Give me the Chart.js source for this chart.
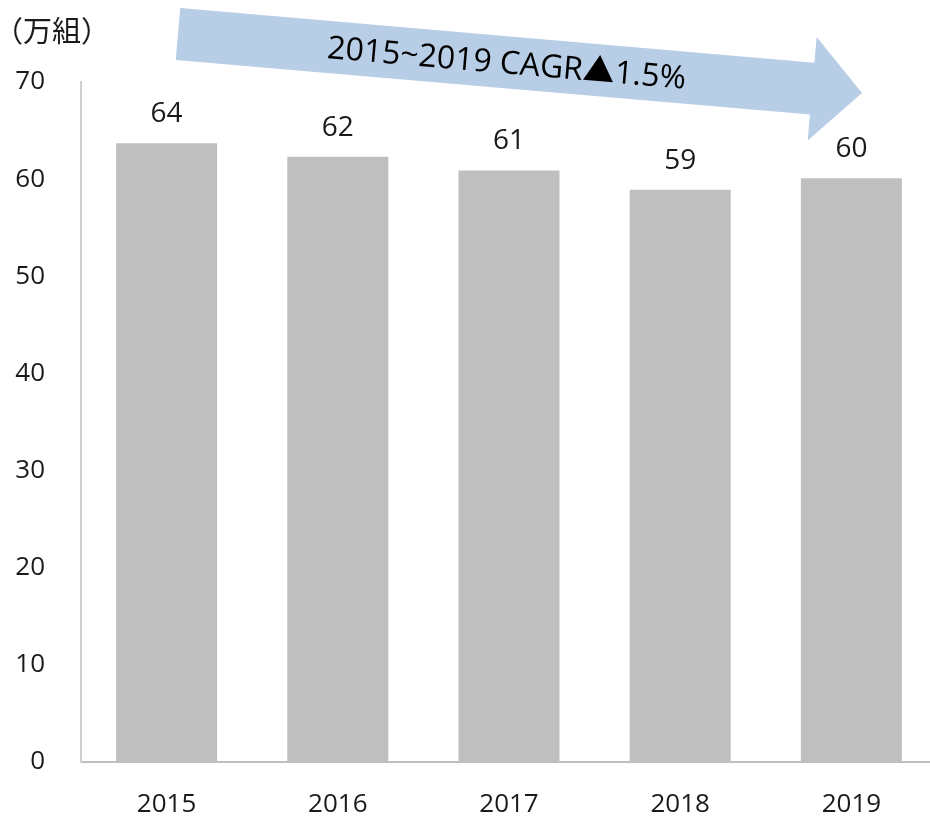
<!DOCTYPE html>
<html>
<head>
<meta charset="utf-8">
<script src="https://cdn.jsdelivr.net/npm/chart.js@4"></script>
<style>
  html, body { margin: 0; padding: 0; background: #fff; overflow: hidden; }
  #wrap { width: 937px; height: 817px; position: relative; }
</style>
</head>
<body>
<div id="wrap"><canvas id="chart"></canvas></div>
<script>
// data (labels show rounded values)
const years = ['2015', '2016', '2017', '2018', '2019'];
const households = [63.7, 62.3, 60.9, 58.9, 60.1];
const yTicks = [0, 10, 20, 30, 40, 50, 60, 70];
const unitLabel = '（万組）';
const arrowText = '2015~2019 CAGR▲1.5%';

const FONT = '"Open Sans", "Noto Sans CJK JP", sans-serif';

// value labels above each bar
const barLabels = {
    id: 'barLabels',
    afterDatasetsDraw(chart) {
        const ctx = chart.ctx;
        const meta = chart.getDatasetMeta(0);
        ctx.save();
        ctx.font = '28px ' + FONT;
        ctx.fillStyle = '#1a1a1a';
        ctx.textAlign = 'center';
        ctx.textBaseline = 'middle';
        meta.data.forEach(function (bar, i) {
            ctx.fillText(Math.round(households[i]), bar.x, bar.y - 29);
        });
        ctx.restore();
    }
};

// unit label + big slanted arrow
const decorations = {
    id: 'decorations',
    beforeDatasetsDraw(chart) {
        const ctx = chart.ctx;
        ctx.save();
        ctx.font = '29px "Noto Sans CJK JP", sans-serif';
        ctx.fillStyle = '#1a1a1a';
        ctx.textBaseline = 'middle';
        ctx.fillText(unitLabel, -6, 31);

        // arrow, drawn in its own rotated frame
        const sx = 178, sy = 34, tx = 862, ty = 93;
        const ang = Math.atan2(ty - sy, tx - sx);
        const len = Math.hypot(tx - sx, ty - sy);
        const head = 50, sw = 26, hw = 52;
        ctx.translate(sx, sy);
        ctx.rotate(ang);
        ctx.beginPath();
        ctx.moveTo(0, -sw);
        ctx.lineTo(len - head, -sw);
        ctx.lineTo(len - head, -hw);
        ctx.lineTo(len, 0);
        ctx.lineTo(len - head, hw);
        ctx.lineTo(len - head, sw);
        ctx.lineTo(0, sw);
        ctx.closePath();
        ctx.fillStyle = '#b8cde6';
        ctx.fill();

        ctx.font = '32px ' + FONT;
        ctx.fillStyle = '#000';
        ctx.textAlign = 'center';
        ctx.textBaseline = 'middle';
        ctx.fillText(arrowText, 330, 2);
        ctx.restore();
    }
};

new Chart(document.getElementById('chart'), {
    type: 'bar',
    data: {
        labels: years,
        datasets: [{
            data: households,
            backgroundColor: '#bfbfbf',
            barPercentage: 0.59,
            categoryPercentage: 1
        }]
    },
    options: {
        responsive: true,
        maintainAspectRatio: false,
        animation: false,
        layout: { padding: { top: 82, right: 0, bottom: 0, left: 0 } },
        plugins: {
            legend: { display: false },
            tooltip: { enabled: false }
        },
        scales: {
            x: {
                grid: { display: false, drawTicks: false },
                border: { color: '#bfbfbf', width: 2 },
                ticks: {
                    color: '#1a1a1a',
                    font: { size: 26, family: FONT },
                    padding: 27
                },
                afterFit(scale) { scale.height = 55; }
            },
            y: {
                min: 0,
                max: 70,
                grid: { display: false, drawTicks: false },
                border: { color: '#d0d0d0', width: 2 },
                afterBuildTicks(scale) {
                    scale.ticks = yTicks.map(function (v) { return { value: v }; });
                },
                ticks: {
                    color: '#1a1a1a',
                    font: { size: 26, family: FONT },
                    padding: 36
                },
                afterFit(scale) { scale.width = 81; }
            }
        }
    },
    plugins: [decorations, barLabels]
});
</script>
</body>
</html>
